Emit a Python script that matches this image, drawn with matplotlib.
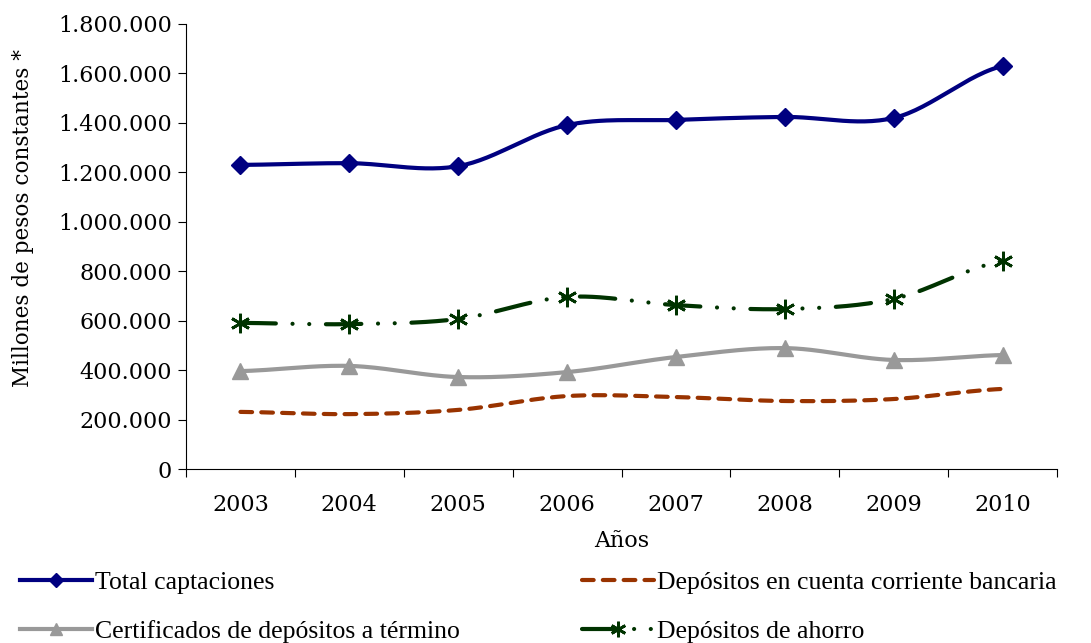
import matplotlib
matplotlib.use('Agg')
import matplotlib.pyplot as plt
import numpy as np
from matplotlib.ticker import FuncFormatter

plt.rcParams['font.family'] = ['DejaVu Serif']
plt.rcParams['font.size'] = 16

years = ['2003', '2004', '2005', '2006', '2007', '2008', '2009', '2010']
total = [1230000, 1237000, 1225000, 1391000, 1412000, 1424000, 1420000, 1630000]
corriente = [231000, 222000, 239000, 295000, 291000, 275000, 283000, 324000]
certificados = [396000, 417000, 372000, 392000, 453000, 489000, 441000, 461000]
ahorro = [591000, 586000, 607000, 696000, 663000, 647000, 688000, 841000]


def smooth(y, n=30):
    # curva suavizada tipo Excel (Catmull-Rom)
    y = np.asarray(y, dtype=float)
    x = np.arange(len(y), dtype=float)
    p = np.concatenate([[y[0]], y, [y[-1]]])
    xs, ys = [], []
    for i in range(len(y) - 1):
        p0, p1, p2, p3 = p[i], p[i + 1], p[i + 2], p[i + 3]
        t = np.linspace(0, 1, n, endpoint=False)
        yy = 0.5 * ((2 * p1) + (-p0 + p2) * t + (2 * p0 - 5 * p1 + 4 * p2 - p3) * t ** 2
                    + (-p0 + 3 * p1 - 3 * p2 + p3) * t ** 3)
        xs.append(x[i] + t)
        ys.append(yy)
    xs.append([x[-1]])
    ys.append([y[-1]])
    return np.concatenate(xs), np.concatenate(ys)


fig = plt.figure(figsize=(10.91, 6.43), dpi=100)
ax = fig.add_axes([186 / 1091, 1 - 469 / 643, (1057 - 186) / 1091, (469 - 24) / 643])

x = np.arange(len(years))
series = [
    (total, 'Total captaciones', dict(color='#000080', ls='-', lw=3), dict(marker='D', ms=9)),
    (corriente, 'Depósitos en cuenta corriente bancaria',
     dict(color='#993300', ls=(0, (2.8, 2.2)), lw=3, dash_capstyle='round'), None),
    (certificados, 'Certificados de depósitos a término', dict(color='#999999', ls='-', lw=3),
     dict(marker='^', ms=11)),
    (ahorro, 'Depósitos de ahorro',
     dict(color='#003300', ls=(0, (8.5, 4, 0.01, 4, 0.01, 4)), lw=3, dash_capstyle='round'),
     dict(marker=(6, 2, 0), ms=14, mew=2)),
]

handles = []
for vals, label, lstyle, mstyle in series:
    sx, sy = smooth(vals)
    ax.plot(sx, sy, **lstyle)
    if mstyle is not None:
        ax.plot(x, vals, ls='none', color=lstyle['color'], mec=lstyle['color'], **mstyle)
        h, = ax.plot([], [], label=label, **lstyle, **mstyle)
    else:
        h, = ax.plot([], [], label=label, **lstyle)
    handles.append(h)

ax.set_xlim(-0.5, len(years) - 0.5)
ax.set_ylim(0, 1800000)
ax.set_yticks(np.arange(0, 1800001, 200000))
ax.yaxis.set_major_formatter(FuncFormatter(lambda v, p: f'{int(v):,}'.replace(',', '.')))
ax.set_xticks(np.arange(-0.5, len(years), 1))
ax.set_xticklabels([])
ax.set_xticks(x, minor=True)
ax.set_xticklabels(years, minor=True)
ax.tick_params(axis='x', which='minor', length=0, pad=18)
ax.tick_params(axis='x', which='major', length=6, direction='out')
ax.tick_params(axis='y', length=6, direction='out', pad=4)
for s in ['top', 'right']:
    ax.spines[s].set_visible(False)

ax.set_xlabel('Años', labelpad=10)
ax.set_ylabel('Millones de pesos constantes *', fontsize=15.5)
ax.yaxis.set_label_coords(-0.174, 0.564)

fig.legend(handles=[handles[0], handles[2], handles[1], handles[3]], ncol=2, frameon=False,
           loc='lower left', bbox_to_anchor=(0.018, 0.0), borderpad=0, borderaxespad=0,
           columnspacing=4.75, handlelength=2.8, handletextpad=0.12, labelspacing=1.0,
           markerscale=0.8, prop={'family': 'Liberation Serif', 'size': 18.5})

fig.savefig('out.png', dpi=100)
